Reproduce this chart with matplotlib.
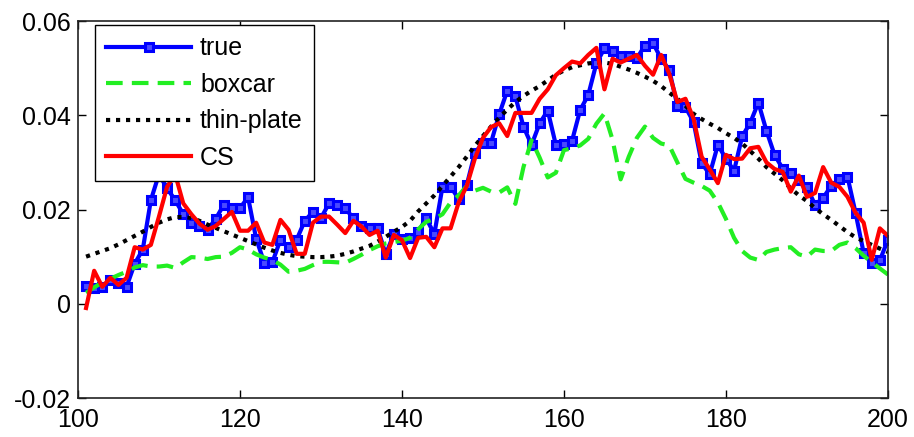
import numpy as np
import matplotlib
matplotlib.use("Agg")
import matplotlib.pyplot as plt

plt.rcParams['font.family'] = ['Liberation Sans', 'DejaVu Sans']

x = np.arange(101, 201)

true_vals = [
    0.0038, 0.0034, 0.0035, 0.0050, 0.0044, 0.0036, 0.0085, 0.0115, 0.0220, 0.0275,
    0.0245, 0.0220, 0.0190, 0.0172, 0.0166, 0.0157, 0.0180, 0.0210, 0.0203, 0.0203,
    0.0226, 0.0138, 0.0087, 0.0088, 0.0136, 0.0120, 0.0136, 0.0176, 0.0195, 0.0182,
    0.0213, 0.0210, 0.0203, 0.0181, 0.0164, 0.0160, 0.0160, 0.0105, 0.0148, 0.0137,
    0.0140, 0.0153, 0.0181, 0.0148, 0.0248, 0.0248, 0.0223, 0.0252, 0.0320, 0.0342,
    0.0342, 0.0402, 0.0452, 0.0440, 0.0376, 0.0337, 0.0383, 0.0410, 0.0337, 0.0340,
    0.0346, 0.0411, 0.0443, 0.0510, 0.0542, 0.0537, 0.0525, 0.0525, 0.0521, 0.0548,
    0.0553, 0.0520, 0.0496, 0.0420, 0.0417, 0.0386, 0.0298, 0.0275, 0.0337, 0.0308,
    0.0282, 0.0355, 0.0384, 0.0427, 0.0367, 0.0316, 0.0287, 0.0278, 0.0262, 0.0247,
    0.0210, 0.0225, 0.0250, 0.0265, 0.0270, 0.0193, 0.0108, 0.0087, 0.0092, 0.0136,
]

boxcar = [
    0.0023, 0.0035, 0.0045, 0.0053, 0.0061, 0.0068, 0.0077, 0.0082, 0.0079, 0.0079,
    0.0081, 0.0076, 0.0088, 0.0099, 0.0098, 0.0095, 0.0099, 0.0100, 0.0108, 0.0120,
    0.0115, 0.0105, 0.0098, 0.0093, 0.0083, 0.0068, 0.0070, 0.0074, 0.0082, 0.0089,
    0.0089, 0.0088, 0.0087, 0.0095, 0.0104, 0.0114, 0.0122, 0.0128, 0.0131, 0.0134,
    0.0140, 0.0158, 0.0174, 0.0180, 0.0190, 0.0215, 0.0230, 0.0250, 0.0240, 0.0246,
    0.0238, 0.0236, 0.0247, 0.0212, 0.0290, 0.0347, 0.0310, 0.0268, 0.0278, 0.0326,
    0.0330, 0.0336, 0.0350, 0.0382, 0.0404, 0.0348, 0.0264, 0.0312, 0.0352, 0.0376,
    0.0352, 0.0340, 0.0336, 0.0300, 0.0265, 0.0257, 0.0250, 0.0240, 0.0215, 0.0180,
    0.0140, 0.0112, 0.0098, 0.0093, 0.0110, 0.0115, 0.0118, 0.0120, 0.0105, 0.0100,
    0.0115, 0.0112, 0.0112, 0.0125, 0.0130, 0.0118, 0.0102, 0.0088, 0.0075, 0.0062,
]

thin_plate = [
    0.0100, 0.0106, 0.0112, 0.0118, 0.0126, 0.0135, 0.0144, 0.0153, 0.0163, 0.0172,
    0.0179, 0.0184, 0.0184, 0.0182, 0.0176, 0.0168, 0.0161, 0.0154, 0.0147, 0.0140,
    0.0133, 0.0126, 0.0119, 0.0113, 0.0108, 0.0104, 0.0101, 0.0100, 0.0099, 0.0099,
    0.0100, 0.0102, 0.0106, 0.0111, 0.0117, 0.0123, 0.0132, 0.0142, 0.0153, 0.0163,
    0.0176, 0.0196, 0.0213, 0.0230, 0.0250, 0.0270, 0.0290, 0.0312, 0.0335, 0.0356,
    0.0376, 0.0395, 0.0412, 0.0428, 0.0441, 0.0452, 0.0462, 0.0474, 0.0486, 0.0495,
    0.0502, 0.0506, 0.0510, 0.0512, 0.0512, 0.0509, 0.0503, 0.0497, 0.0490, 0.0482,
    0.0473, 0.0462, 0.0448, 0.0435, 0.0420, 0.0403, 0.0392, 0.0382, 0.0373, 0.0362,
    0.0352, 0.0340, 0.0324, 0.0308, 0.0290, 0.0276, 0.0262, 0.0245, 0.0230, 0.0218,
    0.0203, 0.0190, 0.0178, 0.0165, 0.0152, 0.0141, 0.0133, 0.0125, 0.0117, 0.0110,
]

cs = [
    -0.0009, 0.0070, 0.0036, 0.0055, 0.0040, 0.0055, 0.0120, 0.0115, 0.0125, 0.0185,
    0.0248, 0.0275, 0.0213, 0.0190, 0.0170, 0.0157, 0.0165, 0.0180, 0.0195, 0.0155,
    0.0155, 0.0172, 0.0130, 0.0125, 0.0178, 0.0157, 0.0106, 0.0106, 0.0172, 0.0185,
    0.0185, 0.0168, 0.0150, 0.0176, 0.0164, 0.0146, 0.0155, 0.0098, 0.0146, 0.0135,
    0.0097, 0.0140, 0.0142, 0.0120, 0.0160, 0.0160, 0.0215, 0.0250, 0.0308, 0.0352,
    0.0375, 0.0383, 0.0356, 0.0405, 0.0405, 0.0405, 0.0435, 0.0455, 0.0485, 0.0500,
    0.0514, 0.0510, 0.0528, 0.0543, 0.0455, 0.0520, 0.0512, 0.0520, 0.0528, 0.0505,
    0.0486, 0.0528, 0.0488, 0.0428, 0.0435, 0.0393, 0.0312, 0.0285, 0.0256, 0.0316,
    0.0307, 0.0308, 0.0330, 0.0333, 0.0300, 0.0286, 0.0280, 0.0238, 0.0272, 0.0227,
    0.0235, 0.0290, 0.0257, 0.0248, 0.0227, 0.0193, 0.0172, 0.0093, 0.0160, 0.0144,
]

x_ticks = [100, 120, 140, 160, 180, 200]
y_ticks = [-0.02, 0, 0.02, 0.04, 0.06]
y_labels = ["-0.02", "0", "0.02", "0.04", "0.06"]

fig = plt.figure(figsize=(9.14, 4.37), dpi=100)
ax = fig.add_axes([0.0853, 0.0892, 0.8862, 0.8627])

ax.plot(x, true_vals, color='#0000ff', lw=3, marker='s', ms=6,
        mfc='#4a4aff', mec='#0000ff', mew=2.2, label='true')
ax.plot(x, boxcar, color='#22ee22', lw=3, dashes=(4, 2.2), label='boxcar')
ax.plot(x, thin_plate, color='black', lw=3, dashes=(1, 1.4), label='thin-plate')
ax.plot(x, cs, color='#ff0000', lw=3, label='CS')

ax.set_xlim(100, 200)
ax.set_ylim(-0.02, 0.06)
ax.set_xticks(x_ticks)
ax.set_yticks(y_ticks)
ax.set_yticklabels(y_labels)
ax.tick_params(direction='in', top=True, right=True, length=6, width=1,
               labelsize=18)
ax.tick_params(axis='x', pad=7)
ax.tick_params(axis='y', pad=5)
for s in ax.spines.values():
    s.set_linewidth(1.2)
    s.set_color('#222222')

leg = ax.legend(loc='upper left', bbox_to_anchor=(0.021, 0.989), fontsize=18,
                handlelength=3.4, handletextpad=0.35, borderpad=0.45,
                fancybox=False, framealpha=1, edgecolor='black',
                borderaxespad=0, labelspacing=0.5, numpoints=1)
leg.get_frame().set_linewidth(1)

fig.savefig("out.png", dpi=100)
